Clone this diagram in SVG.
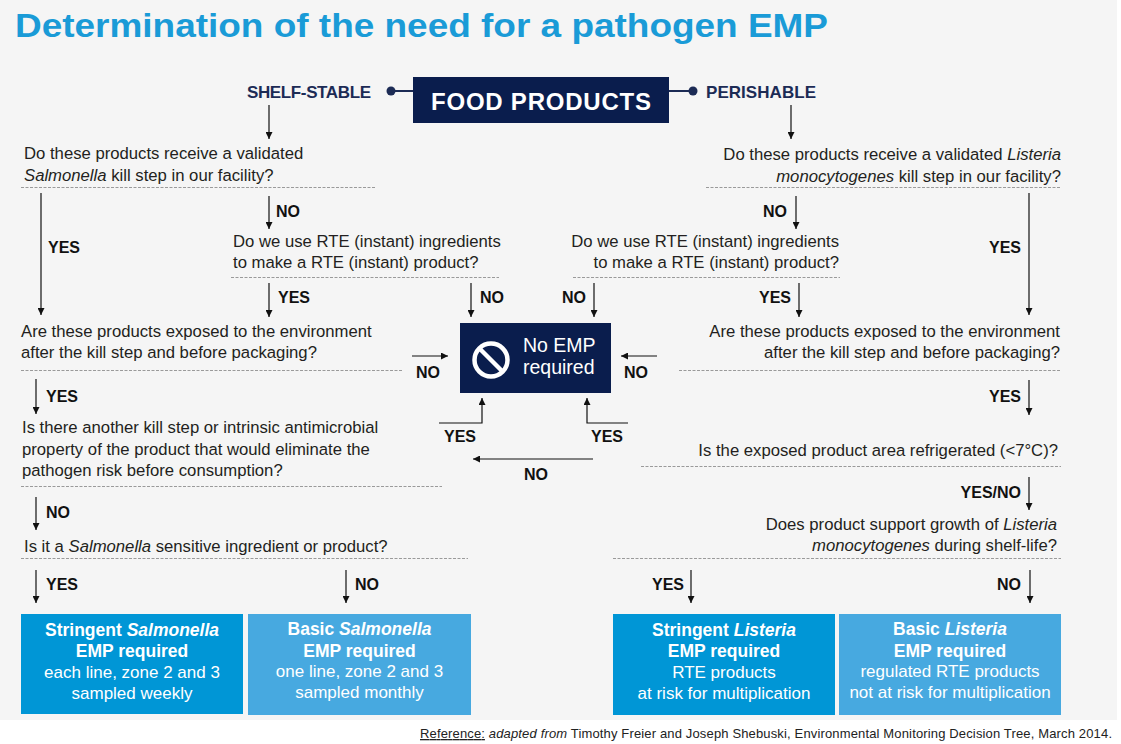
<svg xmlns="http://www.w3.org/2000/svg" width="1121" height="744" viewBox="0 0 1121 744">
<defs>
<marker id="ah" markerUnits="userSpaceOnUse" markerWidth="8" markerHeight="7" refX="7" refY="3.5" orient="auto">
<path d="M0,0 L7,3.5 L0,7 Z" fill="#111"/>
</marker>
<style>
.q{font-family:"Liberation Sans",Arial,sans-serif;font-size:16.7px;fill:#231f20}
.qe{font-family:"Liberation Sans",Arial,sans-serif;font-size:16.7px;fill:#231f20;text-anchor:end}
.lb{font-family:"Liberation Sans",Arial,sans-serif;font-size:16px;font-weight:bold;fill:#111}
.lbe{font-family:"Liberation Sans",Arial,sans-serif;font-size:16px;font-weight:bold;fill:#111;text-anchor:end}
.hd{font-family:"Liberation Sans",Arial,sans-serif;font-size:17px;font-weight:bold;fill:#1c2b55}
.bt{font-family:"Liberation Sans",Arial,sans-serif;font-size:17.5px;font-weight:bold;fill:#fff;text-anchor:middle}
.bn{font-family:"Liberation Sans",Arial,sans-serif;font-size:17px;fill:#fff;text-anchor:middle}
.dot{stroke:#9a9a9a;stroke-width:1;stroke-dasharray:3 1.5;fill:none}
.c{stroke:#111;stroke-width:1.2;fill:none;marker-end:url(#ah)}
.it{font-style:italic}
.navy{fill:#0a1d4d}
.b1{fill:#0096d6}
.b2{fill:#47a9e0}
</style>
</defs>
<rect x="0" y="0" width="1121" height="744" fill="#ffffff"/>
<rect x="0" y="0" width="1117" height="720" fill="#f5f5f5"/>

<text x="15" y="37" font-family="'Liberation Sans',Arial,sans-serif" font-size="33" font-weight="bold" fill="#1a9bd7" textLength="813" lengthAdjust="spacingAndGlyphs">Determination of the need for a pathogen EMP</text>

<g id="food-products">
<rect class="navy" x="413" y="77" width="256" height="46"/>
<text x="541" y="110" font-family="'Liberation Sans',Arial,sans-serif" font-size="24" font-weight="bold" fill="#fff" text-anchor="middle" textLength="220">FOOD PRODUCTS</text>
</g>
<g id="shelf-stable">
<text class="hd" x="371" y="98" text-anchor="end" textLength="124">SHELF-STABLE</text>
<circle cx="391" cy="91" r="4.5" fill="#1c2b55"/>
<line x1="391" y1="91" x2="413" y2="91" stroke="#1c2b55" stroke-width="2"/>
</g>
<g id="perishable">
<text class="hd" x="706" y="98" textLength="110">PERISHABLE</text>
<circle cx="693" cy="91" r="4.5" fill="#1c2b55"/>
<line x1="669" y1="91" x2="693" y2="91" stroke="#1c2b55" stroke-width="2"/>
</g>

<g id="q1-left">
<text class="q" x="24" y="159">Do these products receive a validated</text>
<text class="q" x="24" y="181"><tspan class="it">Salmonella</tspan> kill step in our facility?</text>
<line class="dot" x1="21" y1="187.5" x2="376" y2="187.5"/>
</g>
<g id="q1-right">
<text class="qe" x="1061" y="160">Do these products receive a validated <tspan class="it">Listeria</tspan></text>
<text class="qe" x="1061" y="182"><tspan class="it">monocytogenes</tspan> kill step in our facility?</text>
<line class="dot" x1="706" y1="187.5" x2="1061" y2="187.5"/>
</g>
<g id="q2-left">
<text class="q" x="233" y="247">Do we use RTE (instant) ingredients</text>
<text class="q" x="233" y="268">to make a RTE (instant) product?</text>
<line class="dot" x1="231" y1="277.5" x2="499" y2="277.5"/>
</g>
<g id="q2-right">
<text class="qe" x="839" y="247">Do we use RTE (instant) ingredients</text>
<text class="qe" x="839" y="268">to make a RTE (instant) product?</text>
<line class="dot" x1="573" y1="277.5" x2="840" y2="277.5"/>
</g>
<g id="q3-left">
<text class="q" x="21" y="337">Are these products exposed to the environment</text>
<text class="q" x="21" y="358">after the kill step and before packaging?</text>
<line class="dot" x1="21" y1="370.5" x2="403" y2="370.5"/>
</g>
<g id="q3-right">
<text class="qe" x="1060" y="337">Are these products exposed to the environment</text>
<text class="qe" x="1060" y="358">after the kill step and before packaging?</text>
<line class="dot" x1="679" y1="370.5" x2="1061" y2="370.5"/>
</g>
<g id="no-emp">
<rect class="navy" x="460" y="323" width="151" height="70"/>
<circle cx="491" cy="360" r="16.5" fill="none" stroke="#fff" stroke-width="4.5"/>
<line x1="479.5" y1="348.5" x2="502.5" y2="371.5" stroke="#fff" stroke-width="4.5"/>
<text x="523" y="352" font-family="'Liberation Sans',Arial,sans-serif" font-size="19.5" fill="#fff">No EMP</text>
<text x="523" y="374" font-family="'Liberation Sans',Arial,sans-serif" font-size="19.5" fill="#fff">required</text>
</g>
<g id="q4-left">
<text class="q" x="22" y="433">Is there another kill step or intrinsic antimicrobial</text>
<text class="q" x="22" y="455">property of the product that would eliminate the</text>
<text class="q" x="22" y="476">pathogen risk before consumption?</text>
<line class="dot" x1="21" y1="486.5" x2="442" y2="486.5"/>
</g>
<g id="q5-left">
<text class="q" x="24" y="552">Is it a <tspan class="it">Salmonella</tspan> sensitive ingredient or product?</text>
<line class="dot" x1="21" y1="558.5" x2="468" y2="558.5"/>
</g>
<g id="q4-right">
<text class="qe" x="1058" y="456">Is the exposed product area refrigerated (&lt;7°C)?</text>
<line class="dot" x1="641" y1="466.5" x2="1061" y2="466.5"/>
</g>
<g id="q5-right">
<text class="qe" x="1057" y="530">Does product support growth of <tspan class="it">Listeria</tspan></text>
<text class="qe" x="1057" y="551"><tspan class="it">monocytogenes</tspan> during shelf-life?</text>
<line class="dot" x1="613" y1="558.5" x2="1061" y2="558.5"/>
</g>

<g id="box-stringent-salmonella">
<rect class="b1" x="21" y="614" width="222" height="100"/>
<text class="bt" x="132" y="636">Stringent <tspan class="it">Salmonella</tspan></text>
<text class="bt" x="132" y="657">EMP required</text>
<text class="bn" x="132" y="678">each line, zone 2 and 3</text>
<text class="bn" x="132" y="699">sampled weekly</text>
</g>
<g id="box-basic-salmonella">
<rect class="b2" x="248" y="614" width="223" height="101"/>
<text class="bt" x="359.5" y="635">Basic <tspan class="it">Salmonella</tspan></text>
<text class="bt" x="359.5" y="657">EMP required</text>
<text class="bn" x="359.5" y="677">one line, zone 2 and 3</text>
<text class="bn" x="359.5" y="698">sampled monthly</text>
</g>
<g id="box-stringent-listeria">
<rect class="b1" x="613" y="614" width="222" height="101"/>
<text class="bt" x="724" y="636">Stringent <tspan class="it">Listeria</tspan></text>
<text class="bt" x="724" y="657">EMP required</text>
<text class="bn" x="724" y="678">RTE products</text>
<text class="bn" x="724" y="699">at risk for multiplication</text>
</g>
<g id="box-basic-listeria">
<rect class="b2" x="839" y="614" width="222" height="101"/>
<text class="bt" x="950" y="635">Basic <tspan class="it">Listeria</tspan></text>
<text class="bt" x="950" y="657">EMP required</text>
<text class="bn" x="950" y="677">regulated RTE products</text>
<text class="bn" x="950" y="698">not at risk for multiplication</text>
</g>

<g id="connectors">
<line class="c" x1="269" y1="105" x2="269" y2="139"/>
<line class="c" x1="791" y1="105" x2="791" y2="139"/>
<line class="c" x1="41" y1="193" x2="41" y2="315"/>
<line class="c" x1="269" y1="196" x2="269" y2="229"/>
<line class="c" x1="796" y1="196" x2="796" y2="229"/>
<line class="c" x1="1029" y1="193" x2="1029" y2="315"/>
<line class="c" x1="269" y1="283" x2="269" y2="317"/>
<line class="c" x1="471" y1="283" x2="471" y2="317"/>
<line class="c" x1="594" y1="283" x2="594" y2="317"/>
<line class="c" x1="799" y1="283" x2="799" y2="317"/>
<line class="c" x1="412" y1="356" x2="448" y2="356"/>
<line class="c" x1="657" y1="356" x2="621" y2="356"/>
<polyline class="c" points="439,423 482,423 482,398"/>
<polyline class="c" points="628,423 587,423 587,398"/>
<line class="c" x1="593" y1="459" x2="473" y2="459"/>
<line class="c" x1="36" y1="379" x2="36" y2="414"/>
<line class="c" x1="36" y1="497" x2="36" y2="530"/>
<line class="c" x1="36" y1="570" x2="36" y2="603"/>
<line class="c" x1="346" y1="570" x2="346" y2="603"/>
<line class="c" x1="1029" y1="380" x2="1029" y2="415"/>
<line class="c" x1="1029" y1="477" x2="1029" y2="510"/>
<line class="c" x1="691" y1="570" x2="691" y2="603"/>
<line class="c" x1="1030" y1="570" x2="1030" y2="603"/>

<text class="lb" x="276" y="217">NO</text>
<text class="lb" x="48" y="253">YES</text>
<text class="lbe" x="787" y="217">NO</text>
<text class="lbe" x="1021" y="253">YES</text>
<text class="lb" x="278" y="303">YES</text>
<text class="lb" x="480" y="303">NO</text>
<text class="lbe" x="586" y="303">NO</text>
<text class="lbe" x="791" y="303">YES</text>
<text class="lb" x="416" y="378">NO</text>
<text class="lb" x="624" y="378">NO</text>
<text class="lb" x="444" y="442">YES</text>
<text class="lb" x="591" y="442">YES</text>
<text class="lb" x="524" y="480">NO</text>
<text class="lb" x="46" y="402">YES</text>
<text class="lb" x="46" y="518">NO</text>
<text class="lb" x="46" y="590">YES</text>
<text class="lb" x="355" y="590">NO</text>
<text class="lbe" x="1021" y="402">YES</text>
<text class="lbe" x="1021" y="498">YES/NO</text>
<text class="lbe" x="684" y="590">YES</text>
<text class="lbe" x="1021" y="590">NO</text>
</g>

<text x="420" y="738" font-family="'Liberation Sans',Arial,sans-serif" font-size="13" fill="#222" textLength="692"><tspan text-decoration="underline">Reference:</tspan> <tspan class="it">adapted from</tspan> Timothy Freier and Joseph Shebuski, Environmental Monitoring Decision Tree, March 2014.</text>
</svg>
